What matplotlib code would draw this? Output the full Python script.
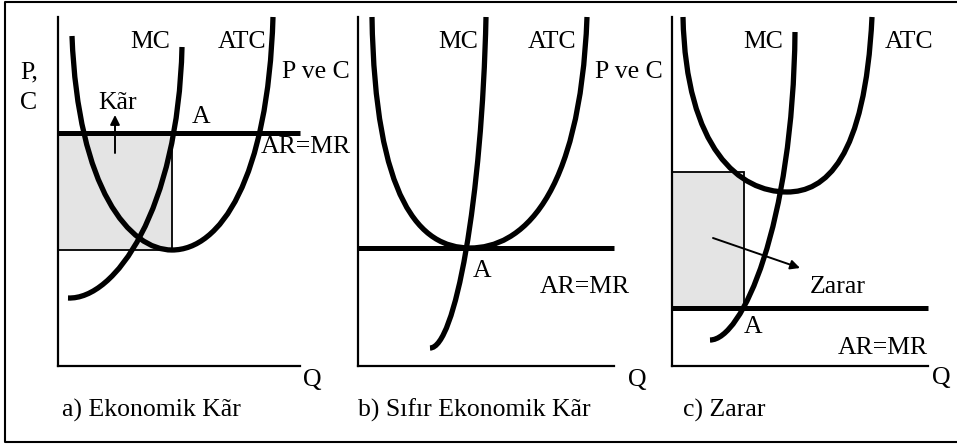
import matplotlib.pyplot as plt
from matplotlib.path import Path
from matplotlib.patches import PathPatch, Rectangle
from matplotlib.lines import Line2D

plt.rcParams["font.family"] = ["Liberation Serif", "DejaVu Serif"]
FS = 18.5

# Each panel uses its own (Q, P) units, origin at the axis corner, 1 unit ~ 1 px.
# ATC: two cubic Bezier segments (7 control points); MC: one cubic segment.
atc_a = [(14, 330), (20, 176), (72, 116), (114, 116), (162, 116), (210, 186), (215, 349)]
mc_a = [(10, 68), (57, 66), (120, 156), (124, 319)]
price_a = 233
rect_a = (0, 116, 114, 233)  # Q0, P0, Q1, P1
arrow_a = ((57, 213), (57, 251))

atc_b = [(14, 349), (17, 166), (62, 118), (112, 118), (162, 118), (222, 166), (229, 349)]
mc_b = [(72, 18), (97, 18), (124, 166), (128, 349)]
price_b = 118

atc_c = [(11, 349), (14, 216), (68, 174), (115, 174), (153, 174), (193, 206), (200, 349)]
mc_c = [(38, 26), (70, 26), (121, 140), (123, 334)]
price_c = 58
rect_c = (0, 58, 72, 194)
arrow_c = ((41, 128), (128, 98))

labels_a = [("P,", -38, 294), ("C", -38, 263), ("MC", 72, 324), ("ATC", 160, 324),
            ("P ve C", 224, 294), ("Kãr", 40, 263), ("A", 134, 249),
            ("AR=MR", 203, 219), ("Q", 245, -14), ("a) Ekonomik Kãr", 4, -44)]
labels_b = [("MC", 80, 324), ("ATC", 170, 324), ("P ve C", 237, 294), ("A", 115, 95),
            ("AR=MR", 182, 79), ("Q", 270, -14), ("b) Sıfır Ekonomik Kãr", 0, -44)]
labels_c = [("MC", 71, 324), ("ATC", 213, 324), ("Zarar", 138, 79), ("A", 72, 39),
            ("AR=MR", 166, 18), ("Q", 260, -12), ("c) Zarar", 11, -44)]

panels = [
    dict(x0=58, xlen=242, atc=atc_a, mc=mc_a, price=price_a, rect=rect_a, arrow=arrow_a, labels=labels_a),
    dict(x0=358, xlen=256, atc=atc_b, mc=mc_b, price=price_b, rect=None, arrow=None, labels=labels_b),
    dict(x0=672, xlen=256, atc=atc_c, mc=mc_c, price=price_c, rect=rect_c, arrow=arrow_c, labels=labels_c),
]

W, H = 957, 445
Y0 = 366  # pixel row of the Q axis
YLEN = 349

fig = plt.figure(figsize=(W / 100, H / 100), dpi=100)
# outer frame (the right side is cut off in the original)
frame_x = [W / W + 0.01, 5 / W, 5 / W, W / W + 0.01]
frame_y = [1 - 1.5 / H, 1 - 1.5 / H, 1 - 441.5 / H, 1 - 441.5 / H]
fig.lines.append(Line2D(frame_x, frame_y, transform=fig.transFigure, color="black", lw=1.5))


def bezier(points):
    codes = [Path.MOVETO] + [Path.CURVE4] * (len(points) - 1)
    return PathPatch(Path(points, codes), fill=False, edgecolor="black", linewidth=3.8,
                     capstyle="butt", zorder=4)


for p in panels:
    ax = fig.add_axes([0, 0, 1, 1])
    ax.set_xlim(-p["x0"], W - p["x0"])
    ax.set_ylim(Y0 - H, Y0)
    ax.axis("off")
    ax.patch.set_alpha(0)

    if p["rect"] is not None:
        q0, p0, q1, p1 = p["rect"]
        ax.add_patch(Rectangle((q0, p0), q1 - q0, p1 - p0, facecolor="#e4e4e4",
                               edgecolor="black", linewidth=1.3, zorder=1))

    # axes
    ax.plot([0, 0], [0, YLEN], color="black", lw=1.6, zorder=3)
    ax.plot([0, p["xlen"]], [0, 0], color="black", lw=1.6, zorder=3)
    # AR = MR
    ax.plot([0, p["xlen"]], [p["price"], p["price"]], color="black", lw=3.6,
            solid_capstyle="butt", zorder=3)

    ax.add_patch(bezier(p["atc"]))
    ax.add_patch(bezier(p["mc"]))

    if p["arrow"] is not None:
        start, end = p["arrow"]
        ax.annotate("", xy=end, xytext=start,
                    arrowprops=dict(arrowstyle="-|>", color="black", lw=1.4,
                                    mutation_scale=14, shrinkA=0, shrinkB=0), zorder=5)

    for txt, q, pr in p["labels"]:
        ax.text(q, pr, txt, fontsize=FS, ha="left", va="center", color="black", zorder=6)

fig.savefig("out.png", dpi=100)
